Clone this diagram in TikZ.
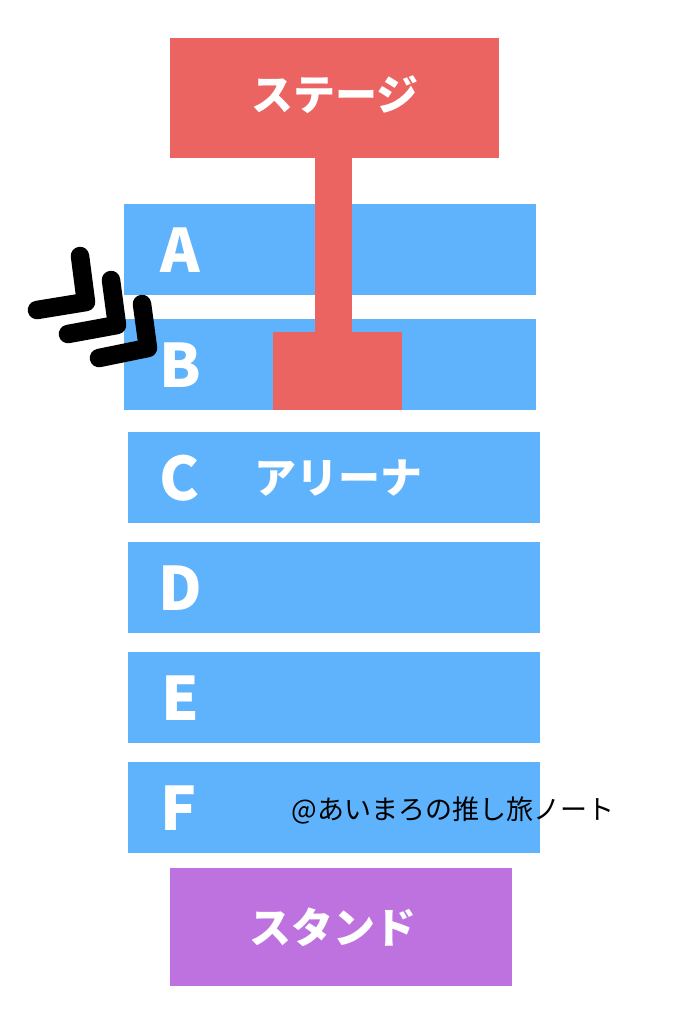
\documentclass[tikz,border=0pt]{standalone}
\usepackage{fontspec}
\newfontfamily\cjk{Noto Sans CJK JP}
\usetikzlibrary{positioning}

\definecolor{stagered}{RGB}{235,100,97}
\definecolor{arenablue}{RGB}{94,179,252}
\definecolor{standpurple}{RGB}{190,114,223}

\begin{document}
\begin{tikzpicture}
[x=0.5pt, y=-0.5pt,
every node/.style={inner sep=0pt, outer sep=0pt},
block/.style={rectangle, minimum width=#1},
row/.style={block=206pt, minimum height=45.5pt, fill=arenablue},
letter/.style={anchor=base, text=white, font=\cjk\bfseries\fontsize{30}{30}\selectfont},
kana/.style={text=white, font=\cjk\bfseries\fontsize{21}{21}\selectfont},
chev/.style={line width=9.25pt, line cap=round, line join=round}
]
  \useasboundingbox[fill=white] (0,0) rectangle (685,1024);

  % stage and stem
  \node[block=164.5pt, minimum height=60pt, fill=stagered] (stage) at (334.5,98) {};
  \node[kana] (stagetxt) at (335,95) {ステージ};

  % arena rows
  \node[row] (rowA) at (330,249.5) {};
  \node[row] (rowB) at (330,364.5) {};
  \node[row] (rowC) at (334,477.5) {};
  \node[row] (rowD) at (334,587.5) {};
  \node[row] (rowE) at (334,697.5) {};
  \node[row] (rowF) at (334,807.5) {};

  \node[block=64.5pt, minimum height=39pt, fill=stagered] (tip) at (337.5,371) {};
  \fill[stagered] ([xshift=-9.75pt]stage.south) rectangle ([xshift=7.25pt]tip.north);

  \node[letter] (labA) at (180,272) {A};
  \node[letter] (labB) at (180,387) {B};
  \node[letter] (labC) at (180,500) {C};
  \node[letter] (labD) at (180,610) {D};
  \node[letter] (labE) at (180,720) {E};
  \node[letter] (labF) at (179,830) {F};
  \node[kana] (arenatxt) at (338,478) {アリーナ};

  % stand
  \node[block=171pt, minimum height=59pt, fill=standpurple] (stand) at (341,927) {};
  \node[kana] (standtxt) at (333,927) {スタンド};

  \node[font=\cjk\fontsize{13.5}{13.5}\selectfont] (credit) at (453,810) {@あいまろの推し旅ノート};

  % chevrons
  \foreach \i in {0,1,2}
    \draw[chev] (80+31*\i,256+24*\i) -- (86+31*\i,302+23*\i) -- (37+31*\i,310+24*\i);
\end{tikzpicture}
\end{document}
